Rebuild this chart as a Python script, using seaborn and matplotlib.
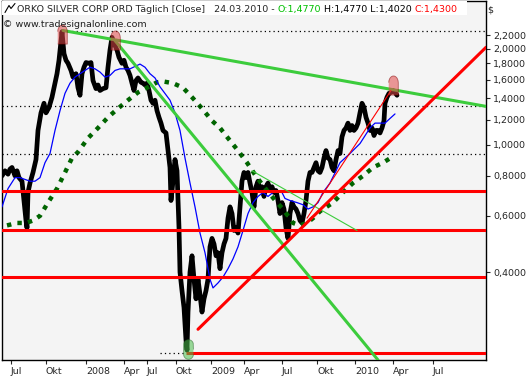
import numpy as np
import pandas as pd
import matplotlib.pyplot as plt
import seaborn as sns
from matplotlib.patches import Rectangle

# chart x is the bar position of the Tradesignal chart (daily bars)
bar = [2, 5, 8, 10, 12, 15, 17, 19, 22, 24, 26, 27, 28, 30, 33, 36, 38, 41, 44, 46,
       49, 52, 54, 57, 59, 61, 62, 64, 66, 68, 71, 73, 76, 78, 80, 82, 84, 86, 89, 91,
       93, 96, 98, 100, 103, 106, 108, 110, 112, 114, 117, 119, 122, 124, 126, 128, 130, 132, 134, 136,
       138, 141, 143, 145, 147, 149, 151, 153, 155, 157, 159, 161, 163, 166, 168, 170, 171, 173, 175, 177,
       179, 180, 182, 184, 186, 187, 188, 190, 192, 194, 196, 198, 200, 202, 204, 206, 208, 210, 212, 214,
       216, 218, 220, 222, 224, 226, 228, 230, 232, 234, 236, 238, 240, 242, 244, 246, 248, 250, 252, 254,
       256, 258, 260, 262, 264, 266, 268, 270, 272, 274, 276, 278, 280, 282, 284, 286, 288, 290, 292, 294,
       296, 298, 300, 302, 304, 306, 308, 310, 312, 314, 316, 318, 320, 322, 324, 326, 328, 330, 332, 334,
       336, 338, 340, 342, 344, 346, 348, 350, 352, 354, 356, 358, 360, 362, 364, 366, 368, 370, 372, 374,
       376, 378, 380, 382, 384, 385, 387, 389, 391, 393, 395, 397]
close = [0.80, 0.83, 0.81, 0.84, 0.85, 0.80, 0.83, 0.79, 0.77, 0.67, 0.58, 0.55, 0.71, 0.76, 0.82, 0.90, 1.11, 1.26, 1.35, 1.26,
         1.31, 1.41, 1.51, 1.67, 1.84, 2.12, 2.26, 1.93, 1.84, 1.80, 1.71, 1.63, 1.67, 1.51, 1.43, 1.67, 1.75, 1.81, 1.80, 1.81,
         1.59, 1.50, 1.54, 1.48, 1.50, 1.51, 1.75, 1.98, 2.17, 2.08, 1.98, 1.88, 1.80, 1.84, 1.75, 1.71, 1.65, 1.56, 1.48, 1.59,
         1.62, 1.57, 1.56, 1.54, 1.56, 1.48, 1.38, 1.35, 1.38, 1.28, 1.22, 1.17, 1.11, 1.09, 0.96, 0.85, 0.67, 0.77, 0.90, 0.83,
         0.55, 0.40, 0.35, 0.31, 0.245, 0.228, 0.30, 0.40, 0.45, 0.38, 0.33, 0.38, 0.34, 0.30, 0.33, 0.35, 0.38, 0.48, 0.51, 0.49,
         0.45, 0.46, 0.41, 0.46, 0.49, 0.51, 0.59, 0.64, 0.61, 0.54, 0.55, 0.53, 0.64, 0.77, 0.82, 0.79, 0.82, 0.76, 0.71, 0.64,
         0.74, 0.77, 0.72, 0.74, 0.69, 0.74, 0.76, 0.72, 0.74, 0.71, 0.72, 0.67, 0.61, 0.66, 0.63, 0.55, 0.51, 0.61, 0.66, 0.64,
         0.63, 0.61, 0.58, 0.57, 0.61, 0.67, 0.77, 0.82, 0.82, 0.85, 0.88, 0.83, 0.82, 0.85, 0.91, 0.96, 0.91, 0.90, 0.85, 0.83,
         0.90, 0.96, 0.94, 1.06, 1.11, 1.13, 1.17, 1.11, 1.15, 1.11, 1.13, 1.17, 1.26, 1.35, 1.31, 1.22, 1.17, 1.11, 1.13, 1.07,
         1.11, 1.11, 1.09, 1.13, 1.19, 1.35, 1.41, 1.45, 1.46, 1.48, 1.46, 1.43]

# short moving average (thin blue)
fast_bar = [2, 8, 15, 20, 25, 30, 35, 40, 45, 50, 55, 60, 65, 70, 75, 80, 85, 90, 95, 100,
            105, 110, 115, 120, 130, 140, 145, 150, 155, 160, 170, 175, 180, 185, 190, 195, 200, 205, 210, 213,
            218, 223, 228, 233, 238, 243, 248, 253, 258, 263, 268, 273, 277, 282, 285, 290, 297, 303, 308, 313,
            318, 323, 330, 340, 350, 360, 370, 375, 380, 385, 390, 395]
fast_ma = [0.64, 0.73, 0.79, 0.79, 0.78, 0.77, 0.77, 0.79, 0.88, 0.94, 1.11, 1.28, 1.45, 1.56, 1.63, 1.67, 1.71, 1.75, 1.73, 1.69,
           1.63, 1.65, 1.71, 1.73, 1.73, 1.79, 1.75, 1.67, 1.62, 1.52, 1.38, 1.26, 1.11, 0.91, 0.76, 0.64, 0.53, 0.46, 0.38, 0.357,
           0.37, 0.386, 0.41, 0.44, 0.48, 0.54, 0.61, 0.66, 0.69, 0.71, 0.69, 0.71, 0.72, 0.71, 0.68, 0.67, 0.66, 0.65, 0.63, 0.64,
           0.66, 0.71, 0.76, 0.88, 0.94, 1.01, 1.13, 1.17, 1.17, 1.17, 1.21, 1.25]

# long moving average (dotted dark green)
slow_bar = [7, 17, 26, 33, 40, 48, 57, 65, 72, 78, 88, 98, 108, 118, 128, 138, 147, 157, 163, 173,
            183, 192, 202, 212, 220, 228, 238, 247, 257, 267, 277, 283, 293, 300, 307, 313, 320, 333, 343, 353,
            363, 373, 383, 393]
slow_ma = [0.56, 0.57, 0.57, 0.58, 0.60, 0.66, 0.73, 0.82, 0.91, 0.95, 1.05, 1.13, 1.22, 1.30, 1.38, 1.46, 1.51, 1.57, 1.58, 1.56,
           1.51, 1.41, 1.30, 1.19, 1.13, 1.05, 0.96, 0.88, 0.79, 0.72, 0.66, 0.63, 0.57, 0.56, 0.57, 0.59, 0.62, 0.66, 0.71, 0.76,
           0.80, 0.85, 0.88, 0.92]

# Fibonacci retracement between high 2.28 and low 0.224
fib_dotted = [1.319, 0.940]
fib_red = [0.715, 0.543, 0.3875]
fib_high, fib_low = 2.28, 0.224
fib_high_start, fib_low_start = 63, 186

# trend lines: start bar, start price, end bar, end price
trend_green = [(63, 2.28, 486, 1.32), (115, 2.12, 378, 0.2124)]
trend_green_thin = [(252, 0.83, 357, 0.54)]
trend_red = [(198, 0.265, 486, 2.02)]
trend_red_thin = [(307, 0.59, 391, 1.48)]

# signal markers
top_bar = [62, 115, 393]
top_price = [2.23, 2.13, 1.54]
low_bar = [188]
low_price = [0.23]

xtick_pos = [11, 46, 86, 124, 147, 176, 211, 244, 282, 317, 355, 393, 433]
xtick_lbl = ["Jul", "Okt", "2008", "Apr", "Jul", "Okt", "2009", "Apr", "Jul", "Okt", "2010", "Apr", "Jul"]
ytick_val = [2.2, 2.0, 1.8, 1.6, 1.4, 1.2, 1.0, 0.8, 0.6, 0.4]

sns.set_style("white")
plt.rcParams["font.family"] = ["DejaVu Sans"]

fig = plt.figure(figsize=(5.31, 3.80), dpi=100)
ax = fig.add_axes([2 / 531, 20 / 380, 484 / 531, 359.5 / 380])
ax.set_facecolor("#f4f4f4")
ax.set_yscale("log")

sns.lineplot(x=bar, y=close, ax=ax, color="black", lw=3.4, estimator=None, sort=False, zorder=2)
sns.lineplot(x=slow_bar, y=slow_ma, ax=ax, color="#006400", lw=3.2, estimator=None,
             linestyle=(0, (1.0, 1.4)), zorder=3)
sns.lineplot(x=fast_bar, y=fast_ma, ax=ax, color="#0000ff", lw=0.9, estimator=None, zorder=3)

for lvl in fib_dotted:
    ax.axhline(lvl, color="black", lw=0.9, linestyle=(0, (1, 2.5)), zorder=4)
ax.hlines(fib_high, fib_high_start, 486, color="black", lw=0.9, linestyle=(0, (1, 2.5)), zorder=4)
ax.hlines(fib_low, 160, fib_low_start, color="black", lw=0.9, linestyle=(0, (1, 2.5)), zorder=4)
for lvl in fib_red:
    ax.axhline(lvl, color="#ff0000", lw=2.2, zorder=4)
ax.hlines(fib_low, fib_low_start, 486, color="#ff0000", lw=2.2, zorder=4)

for x0, y0, x1, y1 in trend_green:
    ax.plot([x0, x1], [y0, y1], color="#3ccc3c", lw=2.2, zorder=5)
for x0, y0, x1, y1 in trend_green_thin:
    ax.plot([x0, x1], [y0, y1], color="#3ccc3c", lw=0.8, zorder=5)
for x0, y0, x1, y1 in trend_red:
    ax.plot([x0, x1], [y0, y1], color="#ff0000", lw=2.2, zorder=5)
for x0, y0, x1, y1 in trend_red_thin:
    ax.plot([x0, x1], [y0, y1], color="#ff0000", lw=0.8, zorder=5)

# bullet shaped markers
t = np.linspace(0, np.pi, 12)
bullet = np.vstack([[[-0.5, -1.0], [0.5, -1.0]], np.c_[0.5 * np.cos(t), 0.3 + 0.7 * np.sin(t)]])
t2 = np.linspace(0, 2 * np.pi, 24)
capsule = np.c_[0.5 * np.cos(t2), np.sign(np.sin(t2)) * 0.5 + 0.5 * np.sin(t2)]
ax.scatter(top_bar, top_price, marker=bullet, s=190, color="#e04848", alpha=0.55,
           edgecolors="#800000", linewidths=0.6, zorder=6)
ax.scatter(low_bar, low_price, marker=capsule, s=200, color="#4cc04c", alpha=0.55,
           edgecolors="#206020", linewidths=0.6, zorder=6)

ax.set_xlim(2, 486)
ax.set_ylim(0.2124, 2.83)
ax.yaxis.tick_right()
ax.yaxis.set_minor_locator(plt.NullLocator())
ax.set_yticks(ytick_val, [f"{v:.4f}".replace(".", ",") for v in ytick_val])
ax.set_xticks(xtick_pos, xtick_lbl)
for lbl in ax.get_xticklabels():
    lbl.set_horizontalalignment("left")
ax.tick_params(axis="y", direction="out", length=3, width=0.8, pad=2, labelsize=6.8, right=True, left=False)
ax.tick_params(axis="x", direction="out", length=3, width=0.8, pad=2, labelsize=6.8, bottom=True)
ax.set_xlabel("")
ax.set_ylabel("")
for sp in ax.spines.values():
    sp.set_color("black")
    sp.set_linewidth(1.0)


def axf(x, y):
    # pixel position in the picture -> axes fraction
    return (x - 2) / 484, (360 - y) / 360


# header line
ax.add_patch(Rectangle(axf(2, 15), 465 / 484, 15 / 360, transform=ax.transAxes,
                       facecolor="white", edgecolor="none", zorder=9))
ix, iy = zip(*[axf(5, 12), axf(9, 5), axf(11, 8), axf(15, 3)])
ax.plot(ix, iy, transform=ax.transAxes, color="black", lw=0.8, zorder=10, clip_on=False)
x0, y0 = axf(17, 14)
h1 = ax.text(x0, y0, "ORKO SILVER CORP ORD Täglich [Close]   24.03.2010 - ", transform=ax.transAxes,
             fontsize=6.8, va="bottom", ha="left", zorder=10)
h2 = ax.annotate("O:1,4770", xy=(1, 0), xycoords=h1, va="bottom", ha="left",
                 fontsize=6.8, color="#00c000", zorder=10)
h3 = ax.annotate(" H:1,4770 L:1,4020 ", xy=(1, 0), xycoords=h2, va="bottom", ha="left",
                 fontsize=6.8, color="black", zorder=10)
ax.annotate("C:1,4300", xy=(1, 0), xycoords=h3, va="bottom", ha="left",
            fontsize=6.8, color="#ff0000", zorder=10)
x0, y0 = axf(3, 29)
ax.text(x0, y0, "© www.tradesignalonline.com", transform=ax.transAxes,
        fontsize=6.8, va="bottom", ha="left", color="#202020", zorder=10)

fig.text(487 / 531, 1 - 10 / 380, "$", fontsize=6.8, va="center", ha="left")

fig.savefig("out.png", dpi=100)
